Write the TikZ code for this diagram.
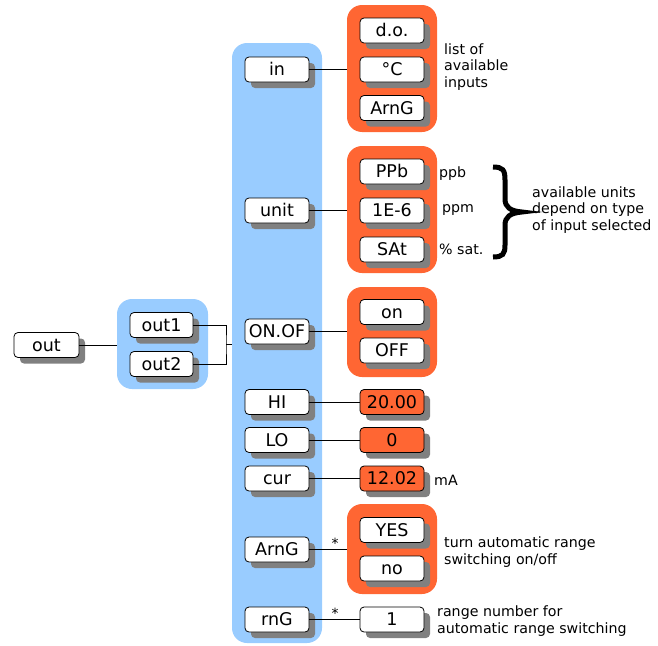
\documentclass[tikz,border=0pt]{standalone}
\usepackage{fontspec}
\setmainfont{DejaVu Sans}
\usetikzlibrary{shadows}
\definecolor{groupblue}{RGB}{153,204,255}
\definecolor{grouporange}{RGB}{255,102,51}
\definecolor{shadowgray}{RGB}{128,128,128}
\tikzset{
  menubox/.style={draw=black, line width=0.8pt, fill=white, rounded corners=4pt,
    minimum width=64pt, minimum height=25pt, inner sep=0pt,
    text height=12.8pt, text depth=0pt,
    font=\fontsize{17.5}{20}\selectfont,
    drop shadow={shadow xshift=6pt, shadow yshift=-6pt, fill=shadowgray, opacity=1}},
  valbox/.style={menubox, fill=grouporange},
  bluegroup/.style={fill=groupblue, rounded corners=15pt, inner sep=0pt},
  orangegroup/.style={fill=grouporange, rounded corners=15pt, inner sep=0pt,
    minimum width=90pt},
  note/.style={anchor=west, align=left, inner sep=0pt,
    font=\fontsize{14.2}{16.8}\selectfont},
  link/.style={draw=black, line width=0.8pt},
}
\begin{document}
\begin{tikzpicture}[x=1pt, y=-1pt]
\useasboundingbox (0,0) rectangle (658,645);

% background groups
\node[bluegroup, minimum width=90pt, minimum height=600pt] (menu) at (277,343) {};
\node[bluegroup, minimum width=91pt, minimum height=90pt] (outs) at (162.5,344) {};
\node[orangegroup, minimum height=127pt] (ginput) at (392,68.5) {};
\node[orangegroup, minimum height=127pt] (gunit) at (392,209.5) {};
\node[orangegroup, minimum height=90pt] (gonof) at (392,332) {};
\node[orangegroup, minimum height=90pt] (garng) at (392,549) {};

% output selection
\node[menubox, minimum width=65pt] (out) at (46.5,345) {out};
\node[menubox, minimum width=63pt] (out1) at (161.5,325) {out1};
\node[menubox, minimum width=63pt] (out2) at (161.5,364) {out2};

% menu entries
\node[menubox] (in) at (277,69.5) {in};
\node[menubox] (unit) at (277,210.5) {unit};
\node[menubox] (onof) at (277,331.5) {ON.OF};
\node[menubox] (hi) at (277,402) {HI};
\node[menubox] (lo) at (277,440) {LO};
\node[menubox] (cur) at (277,478.5) {cur};
\node[menubox] (arng) at (277,549.5) {ArnG};
\node[menubox] (rng) at (277,619.5) {rnG};

% choices
\node[menubox] (do) at (392,30.5) {d.o.};
\node[menubox] (degc) at (392,69.5) {°C};
\node[menubox] (inarng) at (392,108) {ArnG};
\node[menubox] (ppb) at (392,171.5) {PPb};
\node[menubox] (ppm) at (392,210.5) {1E-6};
\node[menubox] (sat) at (392,249.5) {SAt};
\node[menubox] (on) at (392,312) {on};
\node[menubox] (off) at (392,350.5) {OFF};
\node[valbox] (hival) at (392,402) {20.00};
\node[valbox] (loval) at (392,440) {0};
\node[valbox] (curval) at (392,478.5) {12.02};
\node[menubox] (yes) at (392,530) {YES};
\node[menubox] (no) at (392,568.5) {no};
\node[menubox] (rngval) at (392,619.5) {1};

% connectors
\coordinate (join) at (226,344.5);
\draw[link] (out.east) -- (out.east -| outs.west);
\draw[link] (out1.east) -| (join) |- (out2.east);
\draw[link] (join) -- (join -| menu.west);
\draw[link] (in.east) -- (in.east -| ginput.west);
\draw[link] (unit.east) -- (unit.east -| gunit.west);
\draw[link] (onof.east) -- (onof.east -| gonof.west);
\draw[link] (hi.east) -- (hival.west);
\draw[link] (lo.east) -- (loval.west);
\draw[link] (cur.east) -- (curval.west);
\draw[link] (arng.east) -- (arng.east -| garng.west);
\draw[link] (rng.east) -- (rngval.west);
\node[inner sep=0pt, font=\fontsize{14}{16}\selectfont] (star1) at (335,543) {*};
\node[inner sep=0pt, font=\fontsize{14}{16}\selectfont] (star2) at (335,613) {*};

% notes
\node[note] (ninputs) at (444,67) {list of\\available\\inputs};
\node[note] (nppb) at (439,174) {ppb};
\node[note] (nppm) at (442,210) {ppm};
\node[note] (nsat) at (439,249) {\% sat.};
\node[note] (nunits) at (532,210) {available units\\depend on type\\of input selected};
\node[note] (nma) at (434,480) {mA};
\node[note] (narng) at (444,552) {turn automatic range\\switching on/off};
\node[note] (nrng) at (437,621) {range number for\\automatic range switching};

% brace grouping the units
\draw[line width=5pt]
  (493,167) .. controls (503,167) and (505,170) .. (505,180) -- (505,199)
  .. controls (505,207) and (510,211) .. (522,212)
  .. controls (510,213) and (505,217) .. (505,225) -- (505,245)
  .. controls (505,254) and (503,257) .. (493,257);
\end{tikzpicture}
\end{document}
